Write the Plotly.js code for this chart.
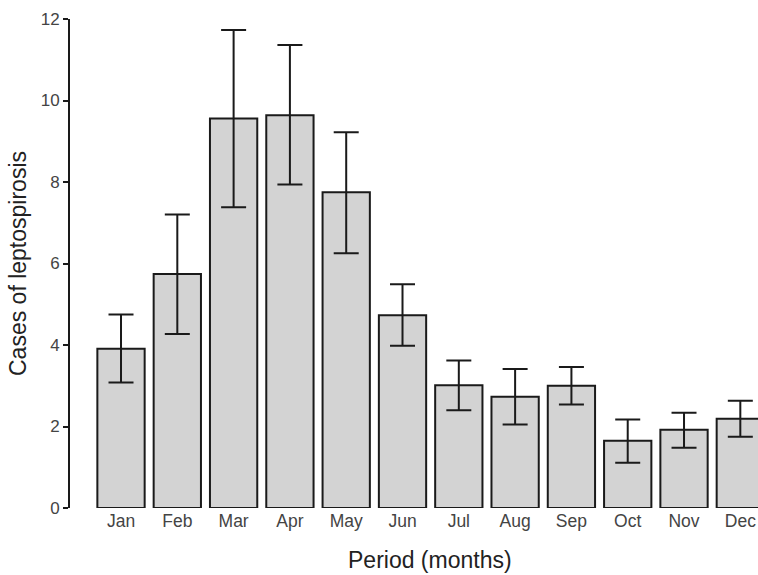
<!DOCTYPE html>
<html>
<head>
<meta charset="utf-8">
<script src="https://cdn.plot.ly/plotly-3.0.1.min.js"></script>
<style>html,body{margin:0;padding:0;background:#fff;overflow:hidden}#chart{width:758px;height:575px}</style>
</head>
<body>
<div id="chart"></div>
<script>
const months = ["Jan","Feb","Mar","Apr","May","Jun","Jul","Aug","Sep","Oct","Nov","Dec"];
const cases = [3.91, 5.74, 9.56, 9.64, 7.75, 4.73, 3.01, 2.73, 3.00, 1.65, 1.92, 2.19];
const upper = [4.75, 7.20, 11.73, 11.36, 9.22, 5.49, 3.62, 3.41, 3.46, 2.17, 2.34, 2.63];
const lower = [3.08, 4.27, 7.38, 7.94, 6.25, 3.98, 2.40, 2.05, 2.54, 1.11, 1.48, 1.75];
const yTicks = [0, 2, 4, 6, 8, 10, 12];

const errPlus = upper.map((u, i) => u - cases[i]);
const errMinus = cases.map((c, i) => c - lower[i]);

const trace = {
  type: "bar",
  x: months,
  y: cases,
  width: 0.84,
  marker: {color: "#d3d3d3", line: {color: "#1a1a1a", width: 2}},
  error_y: {type: "data", symmetric: false, array: errPlus, arrayminus: errMinus,
            color: "#1a1a1a", thickness: 2, width: 12.5},
  hoverinfo: "none"
};

const layout = {
  width: 758, height: 575,
  margin: {l: 70, r: 0, t: 19, b: 67},
  paper_bgcolor: "#fff", plot_bgcolor: "#fff",
  font: {family: "Liberation Sans, Arial, sans-serif", color: "#444", size: 17},
  showlegend: false,
  xaxis: {
    type: "category", range: [-0.906, 11.314],
    showline: false, showgrid: false, zeroline: false, ticks: "",
    tickfont: {size: 17.5, color: "#444"}
  },
  yaxis: {
    range: [0, 12], tickvals: yTicks, ticktext: yTicks.map(String),
    showline: true, linecolor: "#1a1a1a", linewidth: 2,
    ticks: "outside", ticklen: 5, tickwidth: 2, tickcolor: "#1a1a1a",
    showgrid: false, zeroline: false,
    tickfont: {size: 17, color: "#444"},
    title: {text: "Cases of leptospirosis", font: {size: 23, color: "#222"}, standoff: 8}
  },
  annotations: [{
    text: "Period (months)", xref: "paper", yref: "paper",
    x: 0.523, y: 0, yshift: -52, xanchor: "center", yanchor: "middle",
    showarrow: false, font: {size: 23, color: "#222"}
  }]
};

Plotly.newPlot("chart", [trace], layout, {displayModeBar: false, staticPlot: true});
</script>
</body>
</html>
